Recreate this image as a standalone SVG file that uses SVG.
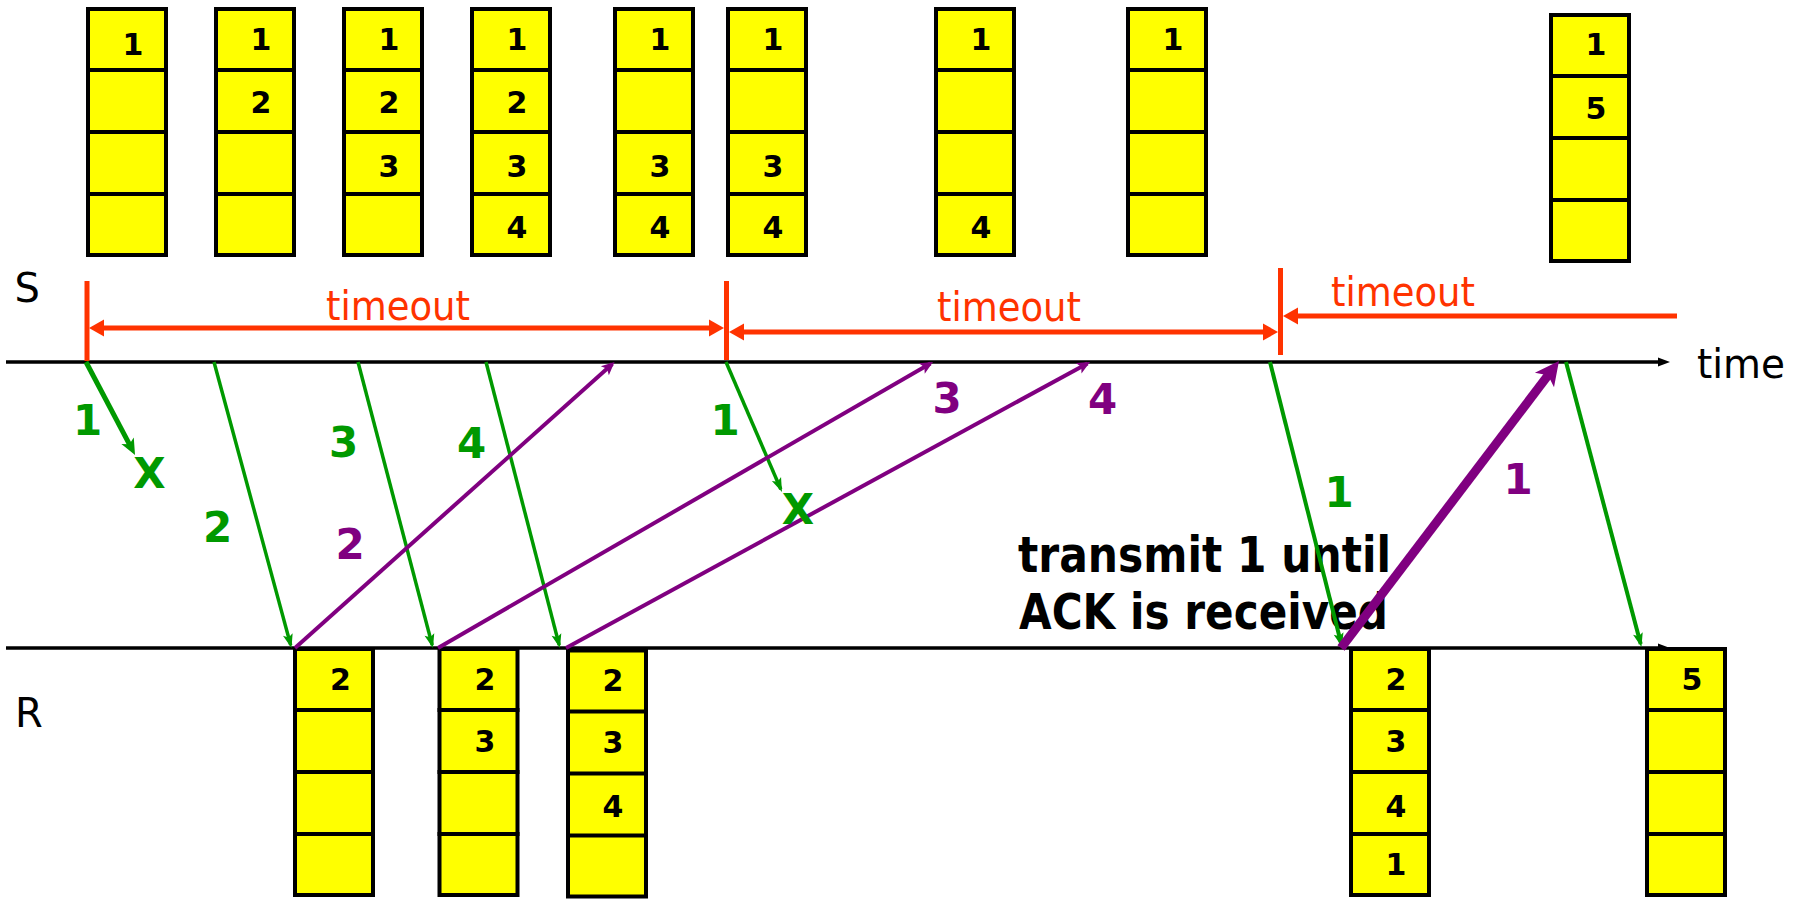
<svg xmlns="http://www.w3.org/2000/svg" width="1796" height="900" viewBox="0 0 1796 900">
<style>
.box rect{fill:#FFFF00;stroke:#000;stroke-width:4}
.box path{stroke:#000;stroke-width:4;fill:none}
.num{font-family:'DejaVu Sans',Verdana,sans-serif;font-weight:bold;font-size:30px;text-anchor:middle;fill:#000}
.lbl{font-family:'DejaVu Sans',Verdana,sans-serif;font-weight:bold;font-size:42px;text-anchor:middle}
.reg{font-family:'DejaVu Sans',Verdana,sans-serif;font-size:40px;fill:#000}
.to{font-family:'DejaVu Sans',Verdana,sans-serif;font-size:40px;fill:#FF3300}
.big{font-family:'DejaVu Sans',Verdana,sans-serif;font-weight:bold;font-size:49px;fill:#000}
.g{fill:#009900}.p{fill:#800080}
.axis{stroke:#000;stroke-width:3.5;fill:none}
.red{stroke:#FF3300;stroke-width:5;fill:none}
.gl{stroke:#009900;stroke-width:3.5;fill:none}
.pl{stroke:#800080;stroke-width:4;fill:none}
</style>
<defs>
<marker id="mK" markerUnits="userSpaceOnUse" markerWidth="12" markerHeight="9" refX="6" refY="4.5" orient="auto" overflow="visible"><path d="M0,0 L12,4.5 L0,9 z" fill="#000"/></marker>
<marker id="mR" markerUnits="userSpaceOnUse" markerWidth="15" markerHeight="17" refX="9" refY="8.5" orient="auto-start-reverse" overflow="visible"><path d="M0,0 L15,8.5 L0,17 z" fill="#FF3300"/></marker>
<marker id="mG" markerUnits="userSpaceOnUse" markerWidth="14" markerHeight="10" refX="11" refY="5" orient="auto" overflow="visible"><path d="M0,0 L14,5 L0,10 L3,5 z" fill="#009900"/></marker>
<marker id="mG1" markerUnits="userSpaceOnUse" markerWidth="16" markerHeight="14" refX="8" refY="7" orient="auto" overflow="visible"><path d="M0,0 L16,7 L0,14 L4,7 z" fill="#009900"/></marker>
<marker id="mP" markerUnits="userSpaceOnUse" markerWidth="13" markerHeight="12" refX="10" refY="6" orient="auto" overflow="visible"><path d="M0,0 L13,6 L0,12 L3,6 z" fill="#800080"/></marker>
<marker id="mPb" markerUnits="userSpaceOnUse" markerWidth="24" markerHeight="24" refX="9" refY="12" orient="auto" overflow="visible"><path d="M0,0 L24,12 L0,24 L6,12 z" fill="#800080"/></marker>
</defs>

<g id="labels">
<text class="reg" x="14.5" y="302">S</text>
<text class="reg" x="15" y="727">R</text>
<text class="reg" x="1697" y="378" textLength="88" lengthAdjust="spacingAndGlyphs">time</text>
<text class="to" x="326" y="320" textLength="144" lengthAdjust="spacingAndGlyphs">timeout</text>
<text class="to" x="937" y="321" textLength="144" lengthAdjust="spacingAndGlyphs">timeout</text>
<text class="to" x="1331" y="306" textLength="144" lengthAdjust="spacingAndGlyphs">timeout</text>
<text class="big" x="1018" y="572" textLength="373" lengthAdjust="spacingAndGlyphs">transmit 1 until</text>
<text class="big" x="1019" y="629" textLength="369" lengthAdjust="spacingAndGlyphs">ACK is received</text>
</g>

<g id="axes">
<line class="axis" x1="6" y1="362" x2="1664" y2="362" marker-end="url(#mK)"/>
<line class="axis" x1="6" y1="648" x2="1664" y2="648" marker-end="url(#mK)"/>
</g>

<g id="sender-buffers">
<g id="s1" class="box"><rect x="88" y="9" width="78" height="246"/><path d="M86,70H168M86,132H168M86,194H168"/><text class="num" x="133" y="55">1</text></g>
<g id="s2" class="box"><rect x="216" y="9" width="78" height="246"/><path d="M214,70H296M214,132H296M214,194H296"/><text class="num" x="261" y="50">1</text><text class="num" x="261" y="113">2</text></g>
<g id="s3" class="box"><rect x="344" y="9" width="78" height="246"/><path d="M342,70H424M342,132H424M342,194H424"/><text class="num" x="389" y="50">1</text><text class="num" x="389" y="113">2</text><text class="num" x="389" y="177">3</text></g>
<g id="s4" class="box"><rect x="472" y="9" width="78" height="246"/><path d="M470,70H552M470,132H552M470,194H552"/><text class="num" x="517" y="50">1</text><text class="num" x="517" y="113">2</text><text class="num" x="517" y="177">3</text><text class="num" x="517" y="238">4</text></g>
<g id="s5" class="box"><rect x="615" y="9" width="78" height="246"/><path d="M613,70H695M613,132H695M613,194H695"/><text class="num" x="660" y="50">1</text><text class="num" x="660" y="177">3</text><text class="num" x="660" y="238">4</text></g>
<g id="s6" class="box"><rect x="728" y="9" width="78" height="246"/><path d="M726,70H808M726,132H808M726,194H808"/><text class="num" x="773" y="50">1</text><text class="num" x="773" y="177">3</text><text class="num" x="773" y="238">4</text></g>
<g id="s7" class="box"><rect x="936" y="9" width="78" height="246"/><path d="M934,70H1016M934,132H1016M934,194H1016"/><text class="num" x="981" y="50">1</text><text class="num" x="981" y="238">4</text></g>
<g id="s8" class="box"><rect x="1128" y="9" width="78" height="246"/><path d="M1126,70H1208M1126,132H1208M1126,194H1208"/><text class="num" x="1173" y="50">1</text></g>
<g id="s9" class="box"><rect x="1551" y="15" width="78" height="246"/><path d="M1549,76H1631M1549,138H1631M1549,200H1631"/><text class="num" x="1596" y="55">1</text><text class="num" x="1596" y="119">5</text></g>
</g>

<g id="receiver-buffers">
<g id="r1" class="box"><rect x="295" y="649" width="78" height="246"/><path d="M293,710H375M293,772H375M293,834H375"/><text class="num" x="340.5" y="690">2</text></g>
<g id="r2" class="box"><rect x="439.5" y="649" width="78" height="246"/><path d="M437.5,710H519.5M437.5,772H519.5M437.5,834H519.5"/><text class="num" x="485" y="690">2</text><text class="num" x="485" y="752">3</text></g>
<g id="r3" class="box"><rect x="568" y="650.5" width="78" height="246"/><path d="M566,711.5H648M566,773.5H648M566,835.5H648"/><text class="num" x="613" y="691">2</text><text class="num" x="613" y="753">3</text><text class="num" x="613" y="817">4</text></g>
<g id="r4" class="box"><rect x="1351" y="649" width="78" height="246"/><path d="M1349,710H1431M1349,772H1431M1349,834H1431"/><text class="num" x="1396" y="690">2</text><text class="num" x="1396" y="752">3</text><text class="num" x="1396" y="817">4</text><text class="num" x="1396" y="875">1</text></g>
<g id="r5" class="box"><rect x="1647" y="649" width="78" height="246"/><path d="M1645,710H1727M1645,772H1727M1645,834H1727"/><text class="num" x="1692" y="690">5</text></g>
</g>

<g id="timers">
<line class="red" x1="87" y1="281" x2="87" y2="361"/>
<line class="red" x1="726.5" y1="281" x2="726.5" y2="360"/>
<line class="red" x1="1280.5" y1="268" x2="1280.5" y2="355"/>
<line class="red" x1="95" y1="328" x2="718" y2="328" marker-start="url(#mR)" marker-end="url(#mR)"/>
<line class="red" x1="735" y1="332" x2="1272" y2="332" marker-start="url(#mR)" marker-end="url(#mR)"/>
<line class="red" x1="1289" y1="316" x2="1677" y2="316" marker-start="url(#mR)"/>
</g>

<g id="connectors">
<line class="gl" x1="86" y1="362" x2="131.3" y2="447.9" style="stroke-width:5" marker-end="url(#mG1)"/>
<line class="gl" x1="214" y1="362" x2="290.7" y2="645.1" marker-end="url(#mG)"/>
<line class="gl" x1="358" y1="362" x2="432.2" y2="645.1" marker-end="url(#mG)"/>
<line class="gl" x1="486" y1="362" x2="559.2" y2="645.1" marker-end="url(#mG)"/>
<line class="gl" x1="726" y1="362" x2="780.8" y2="489.2" marker-end="url(#mG)"/>
<line class="gl" x1="1270" y1="362" x2="1341.3" y2="644.1" style="stroke-width:4" marker-end="url(#mG)"/>
<line class="gl" x1="1566" y1="362" x2="1640.7" y2="644.1" style="stroke-width:4" marker-end="url(#mG)"/>
<line class="pl" x1="295" y1="648" x2="612.3" y2="364" marker-end="url(#mP)"/>
<line class="pl" x1="438" y1="648" x2="930.4" y2="363.5" marker-end="url(#mP)"/>
<line class="pl" x1="566" y1="648" x2="1087.4" y2="363.4" marker-end="url(#mP)"/>
<line class="pl" x1="1341" y1="648" x2="1549.9" y2="372.9" style="stroke-width:9" marker-end="url(#mPb)"/>
</g>

<g id="connector-labels">
<text class="lbl g" x="87.5" y="435">1</text>
<text class="lbl g" x="149.5" y="488">X</text>
<text class="lbl g" x="217.5" y="542">2</text>
<text class="lbl g" x="343.5" y="457">3</text>
<text class="lbl g" x="471.5" y="458">4</text>
<text class="lbl p" x="350" y="559">2</text>
<text class="lbl g" x="725" y="435">1</text>
<text class="lbl g" x="798" y="524">X</text>
<text class="lbl p" x="947" y="413">3</text>
<text class="lbl p" x="1102.5" y="414">4</text>
<text class="lbl g" x="1339" y="507">1</text>
<text class="lbl p" x="1518" y="494">1</text>
</g>
</svg>
